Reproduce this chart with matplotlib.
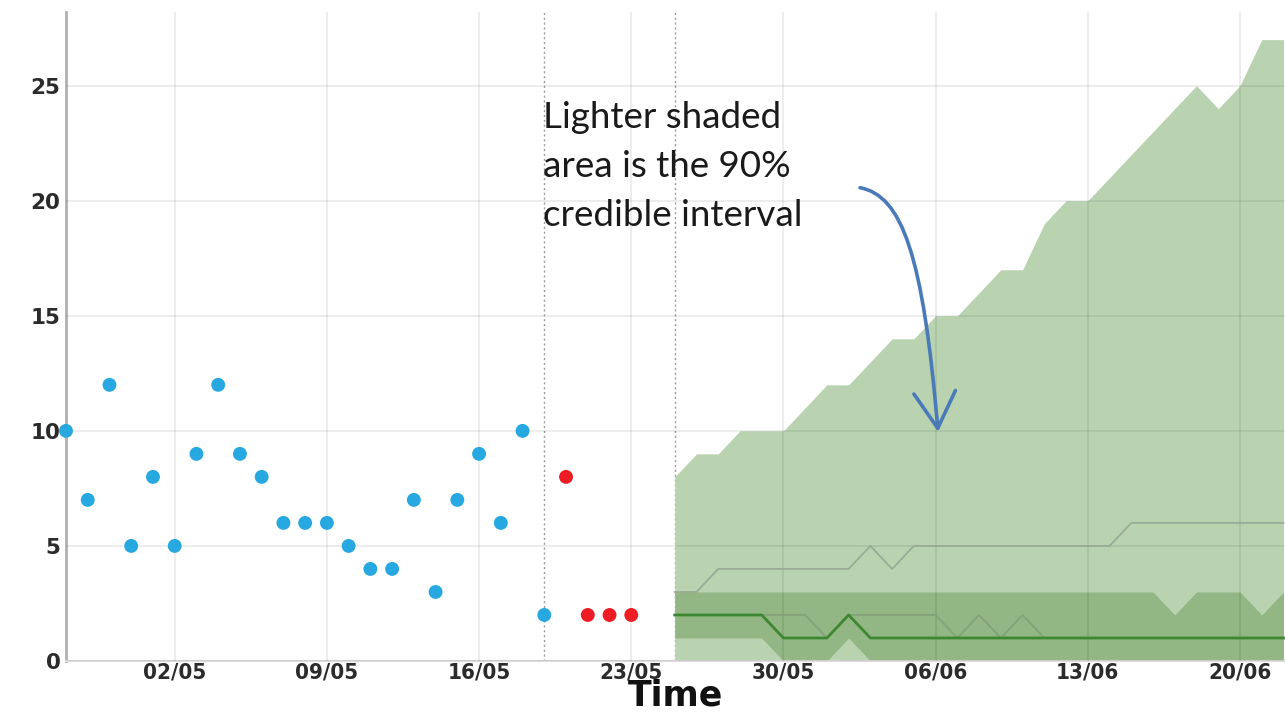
import matplotlib
matplotlib.use("Agg")
import matplotlib.pyplot as plt
import matplotlib.dates as mdates
from matplotlib.patches import FancyArrowPatch
from matplotlib.path import Path
import pandas as pd
import numpy as np

# ---------------- data ----------------
obs_dates = pd.date_range("2020-04-27", periods=23)
obs_values = [10, 7, 12, 5, 8, 5, 9, 12, 9, 8, 6, 6, 6, 5, 4, 4, 7, 3, 7, 9, 6, 10, 2]

recent_dates = pd.date_range("2020-05-20", periods=4)
recent_values = [8, 2, 2, 2]

fc_dates = pd.date_range("2020-05-25", periods=29)
upper90 = [8, 9, 9, 10, 10, 10, 11, 12, 12, 13, 14, 14, 15, 15, 16, 17, 17, 19, 20, 20,
           21, 22, 23, 24, 25, 24, 25, 27, 27]
lower90 = [0] * 29
upper50 = [3] * 23 + [2, 3, 3, 3, 2, 3]
lower50 = [1, 1, 1, 1, 1, 0, 0, 0, 1] + [0] * 20
median = [2, 2, 2, 2, 2, 1, 1, 1, 2] + [1] * 20
path_hi = [3, 3] + [4] * 7 + [5, 4] + [5] * 10 + [6] * 8
path_lo = [2] * 7 + [1, 2] + [2] * 4 + [1, 2, 1, 2] + [1] * 12

yticks = [0, 5, 10, 15, 20, 25]
xtick_dates = pd.date_range("2020-05-02", periods=8, freq="7D")
marker_lines = [pd.Timestamp("2020-05-19"), pd.Timestamp("2020-05-25")]

note_text = "Lighter shaded\narea is the 90%\ncredible interval"

# ---------------- figure ----------------
W, H = 1285, 728
fig = plt.figure(figsize=(W / 100, H / 100), dpi=100)
ax = fig.add_axes([66 / W, (H - 661) / H, 1 - 66 / W, (661 - 12) / H])

x0 = mdates.date2num(pd.Timestamp("2020-04-27"))
ax.set_xlim(x0, x0 + 56.07)
ax.set_ylim(0, 28.2)

fc_x = mdates.date2num(fc_dates)
ax.fill_between(fc_x, lower90, upper90, color="#b9d3b1", linewidth=0, zorder=1)
ax.fill_between(fc_x, lower50, upper50, color="#92b684", linewidth=0, zorder=2)
ax.plot(fc_x, path_hi, color="#97a793", lw=1.3, zorder=3, alpha=0.9)
ax.plot(fc_x, path_lo, color="#83a078", lw=1.3, zorder=3, alpha=0.9)
ax.plot(fc_x, median, color="#3e8733", lw=2.0, zorder=4)

ax.scatter(mdates.date2num(obs_dates), obs_values, s=100, color="#27a8e0",
           edgecolors="none", zorder=5, clip_on=False)
ax.scatter(mdates.date2num(recent_dates), recent_values, s=100, color="#ee1c24",
           edgecolors="none", zorder=5)

for d in marker_lines:
    ax.axvline(mdates.date2num(d), color="#9a9a9a", lw=1.0, ls=(0, (1.5, 2)), zorder=0.5)

# grid
ax.set_yticks(yticks)
ax.set_xticks(mdates.date2num(xtick_dates))
ax.xaxis.set_major_formatter(mdates.DateFormatter("%d/%m"))
ax.grid(True, color="black", alpha=0.085, lw=1.2, zorder=6)
ax.set_axisbelow(False)
for gl in ax.get_xgridlines() + ax.get_ygridlines():
    gl.set_zorder(6)

for s in ["top", "right"]:
    ax.spines[s].set_visible(False)
ax.spines["left"].set_color("#b0b0b0")
ax.spines["left"].set_linewidth(2)
ax.spines["bottom"].set_color("#dddddd")
ax.spines["bottom"].set_linewidth(1.5)
ax.tick_params(axis="both", length=0)
ax.tick_params(axis="y", pad=4)
ax.tick_params(axis="x", pad=1)

for lab in ax.get_yticklabels():
    lab.set_fontfamily("DejaVu Sans")
    lab.set_fontweight("heavy")
    lab.set_fontsize(15.5)
    lab.set_color("#2b2b2b")
for lab in ax.get_xticklabels():
    lab.set_fontfamily("DejaVu Sans")
    lab.set_fontstretch("condensed")
    lab.set_fontweight("bold")
    lab.set_fontsize(16)
    lab.set_color("#2b2b2b")

ax.set_xlabel("Time", fontsize=25, fontweight="bold", family="DejaVu Sans",
              labelpad=-3, color="#111111")

# annotation text
ax.text(x0 + (543 - 66) / 21.74, (661 - 101) / 23, note_text, fontsize=26.5,
        family=["Lato", "DejaVu Sans"], va="top", ha="left", linespacing=1.6,
        color="#1a1a1a", zorder=10)

# curved arrow
def P(px, py):
    return (x0 + (px - 66) / 21.74, (661 - py) / 23)

verts = [P(860, 188), P(902, 196), P(923, 255), P(938, 432)]
path = Path(verts, [Path.MOVETO, Path.CURVE4, Path.CURVE4, Path.CURVE4])
arrow = FancyArrowPatch(path=path, arrowstyle="->,head_length=2.6,head_width=1.5",
                        mutation_scale=10, color="#4a7ab8", lw=2.6, zorder=10)
ax.add_patch(arrow)

fig.savefig("out.png", dpi=100)
